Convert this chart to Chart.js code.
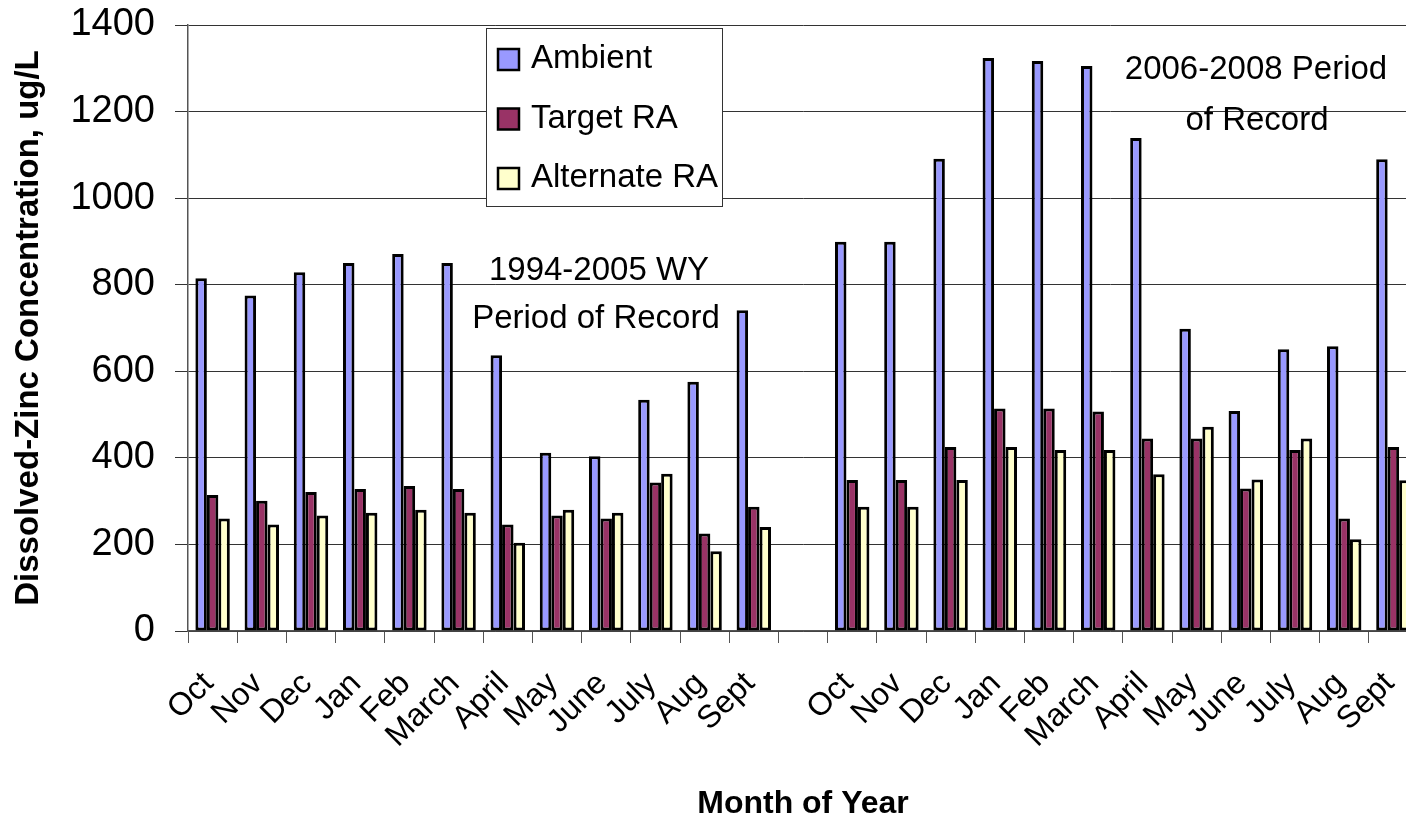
<!DOCTYPE html>
<html>
<head>
<meta charset="utf-8">
<script src="https://cdn.jsdelivr.net/npm/chart.js@4"></script>
<style>
  html, body { margin: 0; padding: 0; background: #fff; overflow: hidden; }
  #wrap { position: absolute; left: 0; top: 0; width: 1420px; height: 825px; }
</style>
</head>
<body>
<div id="wrap"><canvas id="zincChart"></canvas></div>
<script>
const months = ['Oct', 'Nov', 'Dec', 'Jan', 'Feb', 'March', 'April', 'May', 'June', 'July', 'Aug', 'Sept',
    '', 'Oct', 'Nov', 'Dec', 'Jan', 'Feb', 'March', 'April', 'May', 'June', 'July', 'Aug', 'Sept'];

const ambient = [815, 775, 829, 850, 871, 850, 637, 412, 404, 534, 576, 741,
    null, 899, 899, 1091, 1324, 1317, 1305, 1139, 698, 508, 651, 658, 1090];
const targetRA = [314, 301, 321, 328, 335, 328, 246, 267, 260, 343, 225, 287,
    null, 349, 349, 425, 514, 514, 507, 445, 445, 329, 418, 260, 425];
const alternateRA = [260, 246, 267, 273, 280, 273, 204, 280, 273, 363, 184, 240,
    null, 287, 287, 349, 425, 418, 418, 362, 472, 350, 445, 212, 348];

const yTicks = [0, 200, 400, 600, 800, 1000, 1200, 1400];

const FONT = '"Liberation Sans", Arial, sans-serif';

// legend box and the two period notes, drawn on top of the plot
const notesPlugin = {
    id: 'notes',
    afterDraw(chart) {
        const ctx = chart.ctx;
        const ds = chart.data.datasets;
        ctx.save();
        ctx.fillStyle = '#fff';
        ctx.fillRect(486, 28, 236, 178);
        ctx.strokeStyle = '#333';
        ctx.lineWidth = 1;
        ctx.strokeRect(486.5, 28.5, 236, 178);
        ctx.font = '33px ' + FONT;
        ctx.textBaseline = 'alphabetic';
        ds.forEach((d, i) => {
            const y = 49 + i * 59.5;
            ctx.fillStyle = d.backgroundColor;
            ctx.fillRect(498, y, 21, 21);
            ctx.strokeStyle = '#000';
            ctx.lineWidth = 2.5;
            ctx.strokeRect(498, y, 21, 21);
            ctx.fillStyle = '#000';
            ctx.textAlign = 'left';
            ctx.fillText(d.label, 531, 68 + i * 59.5);
        });
        ctx.font = '33px ' + FONT;
        ctx.textAlign = 'center';
        ctx.fillStyle = '#000';
        ctx.fillText('1994-2005 WY', 599, 280);
        ctx.fillText('Period of Record', 596, 328);
        ctx.fillText('2006-2008 Period', 1256, 79);
        ctx.fillText('of Record', 1257, 130);
        ctx.restore();
    }
};

const zincChart = new Chart(document.getElementById('zincChart'), {
    type: 'bar',
    data: {
        labels: months,
        datasets: [{
            label: 'Ambient',
            data: ambient,
            backgroundColor: '#9999FF'
        }, {
            label: 'Target RA',
            data: targetRA,
            backgroundColor: '#993366'
        }, {
            label: 'Alternate RA',
            data: alternateRA,
            backgroundColor: '#FFFFCC'
        }]
    },
    options: {
        responsive: true,
        maintainAspectRatio: false,
        animation: false,
        datasets: {
            bar: {
                borderColor: '#000',
                borderWidth: 3,
                borderSkipped: false,
                categoryPercentage: 0.7,
                barPercentage: 1.0
            }
        },
        layout: { padding: { left: 0, right: 2, top: 25, bottom: 0 } },
        plugins: {
            legend: { display: false },
            tooltip: { enabled: false }
        },
        scales: {
            x: {
                grid: {
                    offset: true,
                    drawOnChartArea: false,
                    tickLength: 12,
                    color: '#555'
                },
                border: { color: '#555', width: 1.5 },
                ticks: {
                    autoSkip: false,
                    maxRotation: 45,
                    minRotation: 45,
                    padding: 22,
                    labelOffset: -4,
                    color: '#000',
                    font: { family: FONT, size: 32 }
                },
                title: {
                    display: true,
                    text: 'Month of Year',
                    color: '#000',
                    font: { family: FONT, size: 32, weight: 'bold' },
                    padding: { top: 0, bottom: 2 }
                },
                afterFit(scale) {
                    scale.height = 194;
                    scale.paddingLeft = 0;
                    scale.paddingRight = 0;
                }
            },
            y: {
                min: 0,
                max: 1400,
                afterBuildTicks(scale) {
                    scale.ticks = yTicks.map(v => ({ value: v }));
                },
                grid: {
                    color: '#333',
                    lineWidth: 1,
                    tickLength: 13
                },
                border: { color: '#555', width: 1.5 },
                ticks: {
                    padding: 20,
                    color: '#000',
                    font: { family: FONT, size: 38 },
                    callback: (v) => String(v)
                },
                title: {
                    display: true,
                    text: 'Dissolved-Zinc Concentration, ug/L',
                    color: '#000',
                    font: { family: FONT, size: 33, weight: 'bold' },
                    padding: { top: 9, bottom: 0 }
                },
                afterFit(scale) {
                    scale.width = 188;
                    scale.paddingTop = 0;
                    scale.paddingBottom = 0;
                }
            }
        }
    },
    plugins: [notesPlugin]
});
</script>
</body>
</html>
